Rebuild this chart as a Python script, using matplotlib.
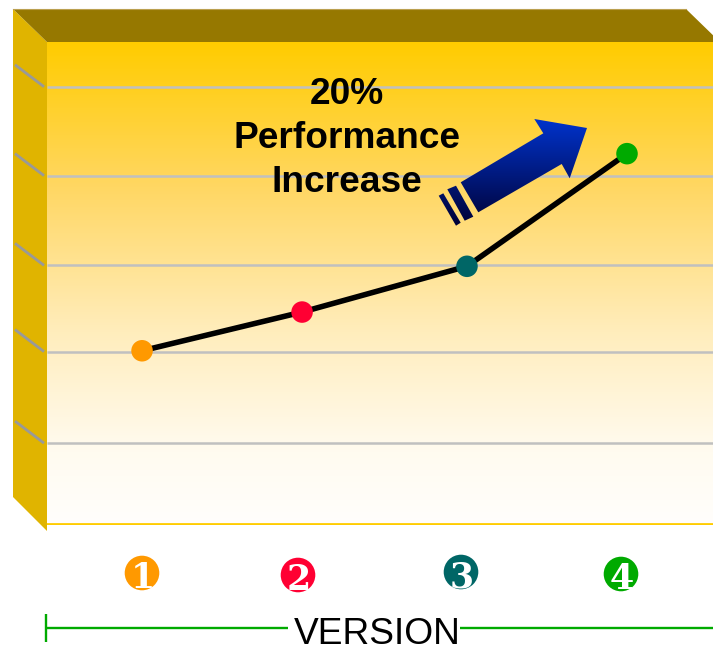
#!/usr/bin/env python3

import matplotlib

matplotlib.use("Agg")
import matplotlib.pyplot as plt
import numpy as np
from matplotlib.colors import LinearSegmentedColormap
from matplotlib.patches import Circle, Polygon

WIDTH = 713
HEIGHT = 645

# values, the y unit is one (unlabelled) gridline step
versions = [1.0, 1.99, 3.01, 4.0]
performance = [1.98, 2.42, 2.94, 4.22]
grid_levels = [0.93, 1.97, 2.95, 3.97, 4.98]
version_labels = ["1", "2", "3", "4"]
version_colors = ["#FF9900", "#FF0033", "#006666", "#00AA00"]
badge_x = [142, 298, 461, 621]
badge_y = [573, 575, 572, 574]


def main() -> None:
    plt.rcParams["font.family"] = ["Liberation Sans", "DejaVu Sans"]
    fig = plt.figure(figsize=(WIDTH / 100, HEIGHT / 100), dpi=100, facecolor="white")

    # overlay in pixel coordinates for the fake 3D walls and the annotations
    ax_px = fig.add_axes([0, 0, 1, 1], zorder=1)
    ax_px.set_xlim(0, WIDTH)
    ax_px.set_ylim(HEIGHT, 0)
    ax_px.axis("off")

    ax = fig.add_axes(
        [47 / WIDTH, (HEIGHT - 525) / HEIGHT, 666 / WIDTH, 483 / HEIGHT],
        zorder=2,
    )
    ax.set_xlim(0.412, 4.532)
    ax.set_ylim(0, 5.489)
    ax.axis("off")

    ramp = LinearSegmentedColormap.from_list(
        "wall",
        [(0.0, "#FFCC00"), (0.3, "#FFD763"), (0.6, "#FFEDBC"), (0.85, "#FFFBF0"), (1.0, "#FFFEFC")],
    )
    ax.imshow(
        np.linspace(0, 1, 256).reshape(-1, 1),
        cmap=ramp,
        aspect="auto",
        extent=(0.412, 4.532, 0, 5.489),
        zorder=0,
    )

    ax_px.add_patch(Polygon([(13, 9), (47, 42), (47, 531), (13, 497)], fc="#E0B400", ec="none"))
    ax_px.add_patch(Polygon([(13, 9), (686, 9), (720, 42), (47, 42)], fc="#967800", ec="none"))
    ax_px.plot([13, 686], [8.7, 8.7], color="#BBA050", linewidth=0.8)

    ax.hlines(grid_levels, 0.412, 4.532, color="#C0C0C0", linewidth=1.8, zorder=1)
    ax.axhline(0.01, color="#FFCC00", linewidth=2.0, zorder=1)

    # side wall stubs follow the gridlines
    for level in grid_levels:
        end_y = 525 - level * 88
        ax_px.plot([15, 44], [end_y - 22, end_y], color="#999999", linewidth=2.0, solid_capstyle="butt")

    ax.plot(versions, performance, color="black", linewidth=4.0, solid_capstyle="butt", zorder=3)
    ax.scatter(versions, performance, s=15.5**2, c=version_colors, linewidths=0, zorder=4)

    # numbered version badges, numerals are cut off by the circle as in the original
    for label, color, x, y in zip(version_labels, version_colors, badge_x, badge_y):
        circle = Circle((x, y), 17.3, fc=color, ec="none")
        ax_px.add_patch(circle)
        numeral = ax_px.text(
            x + 1,
            y + 5,
            label,
            color="white",
            fontsize=25,
            fontweight="bold",
            family="DejaVu Serif",
            ha="center",
            va="center",
        )
        numeral.set_clip_path(circle)

    # gradient arrow, drawn above the data axes
    ax_arrow = fig.add_axes([0, 0, 1, 1], zorder=3)
    ax_arrow.set_xlim(0, WIDTH)
    ax_arrow.set_ylim(HEIGHT, 0)
    ax_arrow.axis("off")
    ax_arrow.patch.set_alpha(0)
    arrow_ramp = LinearSegmentedColormap.from_list("arrow", ["#0033CC", "#001A80", "#000033"])
    body = Polygon(
        [(587, 128), (534.3, 119), (543.3, 133.3), (460.7, 182.3), (478.3, 212.3), (561.7, 164), (569.7, 178.3)],
        fc="none",
        ec="none",
    )
    band_a = Polygon([(447.3, 189.3), (456, 185.7), (473.3, 216.7), (464.7, 220.7)], fc="none", ec="none")
    band_b = Polygon([(438.7, 195.7), (443.3, 193.3), (460.7, 222.7), (456, 225.7)], fc="none", ec="none")
    for shape in (body, band_a, band_b):
        ax_arrow.add_patch(shape)
        image = ax_arrow.imshow(
            np.linspace(0, 1, 256).reshape(-1, 1),
            cmap=arrow_ramp,
            aspect="auto",
            extent=(430, 595, 228, 119),
            origin="upper",
            zorder=2,
        )
        image.set_clip_path(shape)
    ax_arrow.set_xlim(0, WIDTH)
    ax_arrow.set_ylim(HEIGHT, 0)

    for line, y in zip(["20%", "Performance", "Increase"], [104, 148, 192]):
        ax_arrow.text(347, y, line, fontsize=26.7, fontweight="bold", color="black", ha="center", va="baseline")

    # axis bracket and title
    ax_arrow.plot([47, 288], [628, 628], color="#00AA00", linewidth=1.7, solid_capstyle="butt")
    ax_arrow.plot([460, 713], [628, 628], color="#00AA00", linewidth=1.7, solid_capstyle="butt")
    ax_arrow.plot([46, 46], [614, 642], color="#00AA00", linewidth=1.7, solid_capstyle="butt")
    ax_arrow.text(377, 644, "VERSION", fontsize=26.7, color="black", ha="center", va="baseline")

    fig.savefig("out.png", dpi=100)
    plt.close(fig)


if __name__ == "__main__":
    main()
